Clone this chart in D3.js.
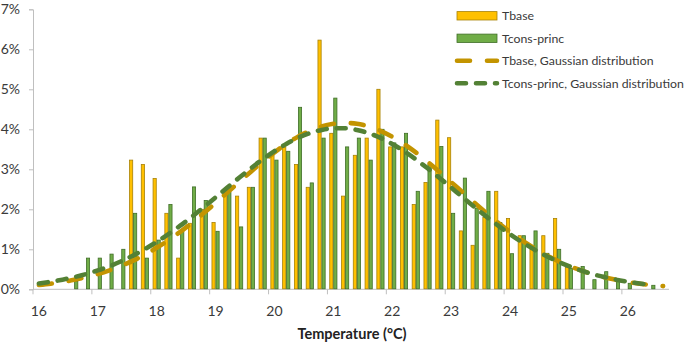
<!DOCTYPE html>
<html>
<head>
<meta charset="utf-8">
<script src="https://cdn.jsdelivr.net/npm/d3@7"></script>
<style>
  html, body { margin: 0; padding: 0; background: #ffffff; }
  svg { display: block; font-family: Lato, "Open Sans", sans-serif; }
</style>
</head>
<body>
<svg id="chart" width="685" height="343"></svg>
<script>
// ---- data ----
const categories = [16.0,16.2,16.4,16.6,16.8,17.0,17.2,17.4,17.6,17.8,
  18.0,18.2,18.4,18.6,18.8,19.0,19.2,19.4,19.6,19.8,
  20.0,20.2,20.4,20.6,20.8,21.0,21.2,21.4,21.6,21.8,
  22.0,22.2,22.4,22.6,22.8,23.0,23.2,23.4,23.6,23.8,
  24.0,24.2,24.4,24.6,24.8,25.0,25.2,25.4,25.6,25.8,
  26.0,26.2,26.4,26.6];
const tbase = [0,0,0,0,0,0,0,0,3.23,3.12,
  2.77,1.9,0.78,1.65,2.0,1.67,2.43,2.33,2.55,3.78,
  3.35,3.56,3.12,2.55,6.23,3.9,2.33,3.35,3.78,5.0,
  3.56,3.56,2.12,2.67,4.23,3.79,1.46,1.1,1.8,2.45,
  1.77,1.34,1.0,1.34,1.77,0.55,0,0,0,0,
  0,0,0,0];
const tcons = [0,0,0,0.2,0.78,0.78,0.88,1.0,1.9,0.78,
  1.23,2.12,1.45,2.56,2.22,1.45,2.43,1.56,2.55,3.78,
  3.23,3.45,4.55,2.66,3.78,4.78,3.56,3.78,3.23,4.0,
  3.66,3.9,2.45,3.12,3.57,1.9,2.78,2.03,2.45,1.67,
  0.89,1.34,1.46,0.9,1.0,0.52,0.57,0.24,0.44,0.23,
  0.15,0,0.1,0];
const tbaseGauss = [0.106,0.140,0.183,0.236,0.301,0.380,0.475,0.587,0.717,0.867,
  1.037,1.227,1.436,1.663,1.905,2.158,2.418,2.681,2.940,3.189,
  3.422,3.632,3.814,3.962,4.071,4.137,4.160,4.137,4.071,3.962,
  3.814,3.632,3.422,3.189,2.940,2.681,2.418,2.158,1.905,1.663,
  1.436,1.227,1.037,0.867,0.717,0.587,0.475,0.380,0.301,0.236,
  0.183,0.140,0.106,0.080];
const tconsGauss = [0.146,0.189,0.241,0.305,0.381,0.472,0.579,0.703,0.845,1.005,
  1.183,1.379,1.590,1.816,2.053,2.296,2.543,2.788,3.025,3.249,
  3.454,3.634,3.786,3.903,3.984,4.025,4.025,3.984,3.903,3.786,
  3.634,3.454,3.249,3.025,2.788,2.543,2.296,2.053,1.816,1.590,
  1.379,1.183,1.005,0.845,0.703,0.579,0.472,0.381,0.305,0.241,
  0.189,0.146,0.112,null];
const xTickLabels = ["16","17","18","19","20","21","22","23","24","25","26"];
const yTicks = [0,1,2,3,4,5,6,7];
const seriesNames = ["Tbase","Tcons-princ","Tbase, Gaussian distribution","Tcons-princ, Gaussian distribution"];
const xTitle = "Temperature (°C)";

// ---- layout ----
const svg = d3.select("#chart");
const plotLeft = 33, plotRight = 669, plotTop = 9.3, plotBottom = 289.3;
const textColor = "#3a3a3a";
const axisColor = "#BFBFBF";
const orangeFill = "#FFC000", orangeStroke = "#A88206";
const greenFill = "#70AD47", greenStroke = "#3F6E27";
const orangeLine = "#C39400", greenLine = "#538135";

const keys = categories.map(c => c.toFixed(1));
const x = d3.scaleBand().domain(keys).range([plotLeft, plotRight]).paddingInner(0.32).paddingOuter(0.16);
const xs = d3.scaleBand().domain(["tbase","tcons"]).range([0, x.bandwidth()]);
const y = d3.scaleLinear().domain([0, 7]).range([plotBottom, plotTop]);
const step = x.step();
const cx = k => x(k) + x.bandwidth() / 2;

// ---- axes ----
const yAxis = d3.axisLeft(y).tickValues(yTicks).tickSize(4).tickPadding(9).tickFormat(d => d + "%");
const gy = svg.append("g").attr("transform", `translate(${plotLeft},0)`).call(yAxis);
gy.select(".domain").attr("stroke", axisColor).attr("stroke-width", 1);
gy.selectAll(".tick line").attr("stroke", axisColor);
gy.selectAll(".tick text").attr("fill", textColor).style("font-size", "14px").style("font-family", "Lato, sans-serif");

// x axis: line, ticks at category boundaries every 5 categories, labels centered on category
const gx = svg.append("g");
gx.append("line").attr("x1", plotLeft).attr("x2", plotRight).attr("y1", plotBottom).attr("y2", plotBottom)
  .attr("stroke", axisColor).attr("stroke-width", 1);
const labelKeys = keys.filter((k, i) => i % 5 === 0 && i <= 50);
gx.selectAll("line.tk").data(labelKeys).join("line").attr("class", "tk")
  .attr("x1", k => x(k) - (step - x.bandwidth()) / 2).attr("x2", k => x(k) - (step - x.bandwidth()) / 2)
  .attr("y1", plotBottom).attr("y2", plotBottom + 5).attr("stroke", axisColor);
gx.selectAll("text.tl").data(labelKeys).join("text").attr("class", "tl")
  .attr("x", cx).attr("y", 310).attr("text-anchor", "middle").attr("dominant-baseline", "central")
  .attr("fill", textColor).style("font-size", "14px")
  .text((k, i) => xTickLabels[i]);
svg.append("text").attr("x", (plotLeft + plotRight) / 2 + 1).attr("y", 333).attr("text-anchor", "middle")
  .attr("dominant-baseline", "central").attr("fill", "#222222").style("font-size", "14.5px").style("font-weight", "bold")
  .text(xTitle);

// ---- bars ----
const barData = [];
keys.forEach((k, i) => {
  if (tbase[i] > 0) barData.push({k, s: "tbase", v: tbase[i]});
  if (tcons[i] > 0) barData.push({k, s: "tcons", v: tcons[i]});
});
svg.append("g").selectAll("rect").data(barData).join("rect")
  .attr("x", d => x(d.k) + xs(d.s) + 0.4)
  .attr("width", xs.bandwidth() - 0.8)
  .attr("y", d => y(d.v))
  .attr("height", d => y(0) - y(d.v) - 0.5)
  .attr("fill", d => d.s === "tbase" ? orangeFill : greenFill)
  .attr("stroke", d => d.s === "tbase" ? orangeStroke : greenStroke)
  .attr("stroke-width", 0.8);

// ---- gaussian lines ----
const line = d3.line().defined(d => d.v !== null).x(d => cx(d.k)).y(d => y(d.v)).curve(d3.curveMonotoneX);
svg.append("path").datum(keys.map((k, i) => ({k, v: tbaseGauss[i]})))
  .attr("d", line).attr("fill", "none").attr("stroke", orangeLine).attr("stroke-width", 4.6)
  .attr("stroke-dasharray", "13,17").attr("stroke-linecap", "round");
svg.append("path").datum(keys.map((k, i) => ({k, v: tconsGauss[i]})))
  .attr("d", line).attr("fill", "none").attr("stroke", greenLine).attr("stroke-width", 4.6)
  .attr("stroke-dasharray", "9,10").attr("stroke-linecap", "round");

// ---- legend ----
const lg = svg.append("g");
const lx0 = 457, lx1 = 497, ly0 = 15.8, ldy = 22.5;
lg.append("rect").attr("x", lx0).attr("y", ly0 - 4.2).attr("width", lx1 - lx0).attr("height", 8.4)
  .attr("fill", orangeFill).attr("stroke", orangeStroke).attr("stroke-width", 0.8);
lg.append("rect").attr("x", lx0).attr("y", ly0 + ldy - 4.2).attr("width", lx1 - lx0).attr("height", 8.4)
  .attr("fill", greenFill).attr("stroke", greenStroke).attr("stroke-width", 0.8);
lg.append("line").attr("x1", lx0).attr("x2", lx1).attr("y1", ly0 + 2 * ldy).attr("y2", ly0 + 2 * ldy)
  .attr("stroke", orangeLine).attr("stroke-width", 4.6).attr("stroke-dasharray", "13,17").attr("stroke-linecap", "round");
lg.append("line").attr("x1", lx0).attr("x2", lx1).attr("y1", ly0 + 3 * ldy).attr("y2", ly0 + 3 * ldy)
  .attr("stroke", greenLine).attr("stroke-width", 4.6).attr("stroke-dasharray", "9,10").attr("stroke-linecap", "round");
const lt = lg.selectAll("text").data(seriesNames).join("text")
  .attr("x", 502).attr("y", (d, i) => ly0 + i * ldy).attr("dominant-baseline", "central")
  .attr("fill", textColor).style("font-size", "13.5px").text(d => d);
// fit the longest legend label to the reference width
let maxW = 0;
lt.each(function() { maxW = Math.max(maxW, this.getComputedTextLength()); });
if (maxW > 182) lt.style("font-size", (13.5 * 182 / maxW).toFixed(2) + "px");
</script>
</body>
</html>
